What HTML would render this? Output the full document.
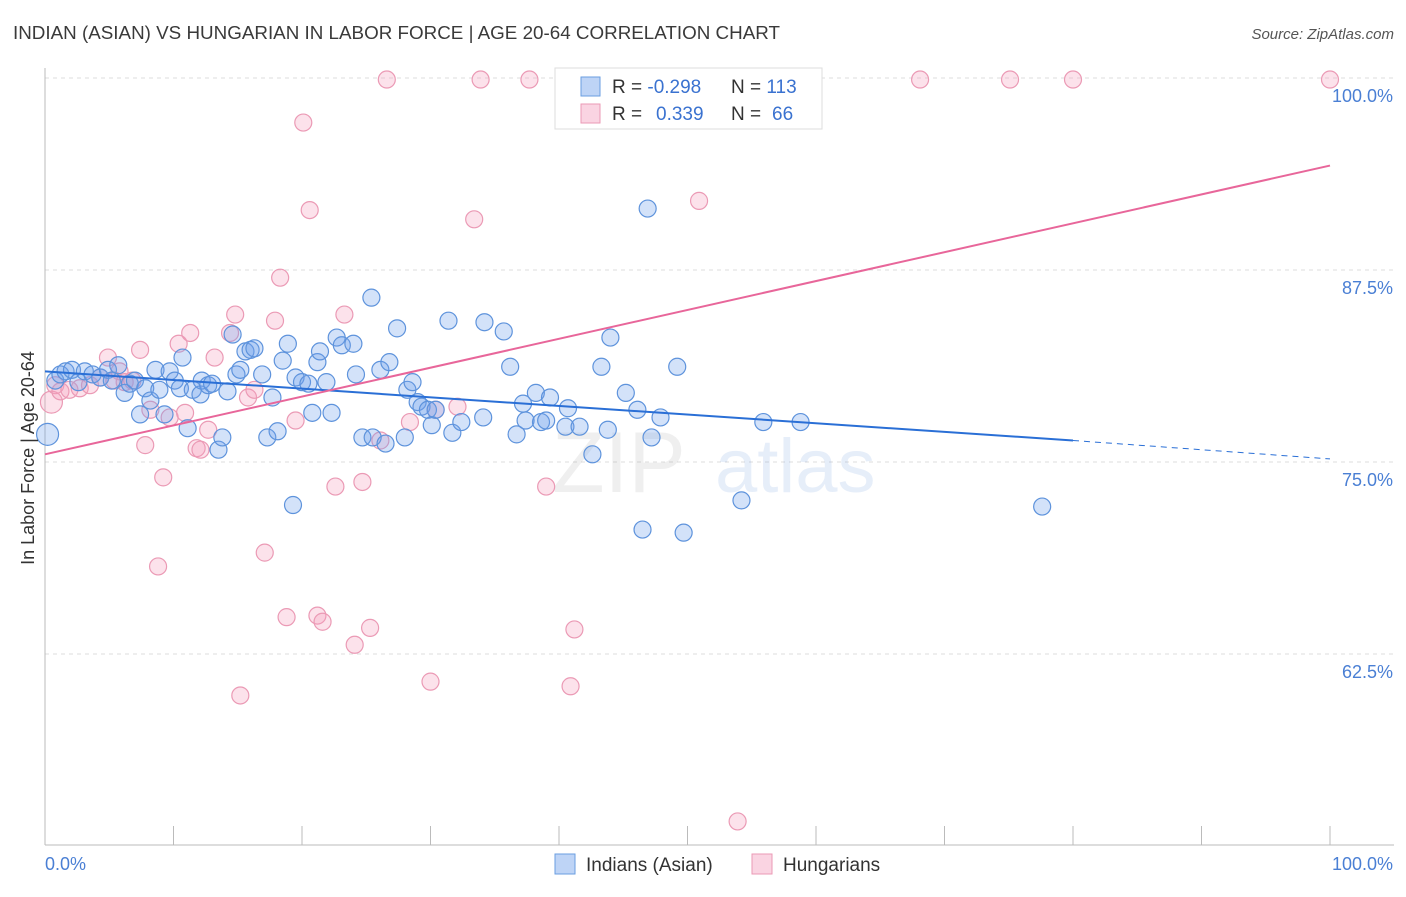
<!DOCTYPE html>
<html><head><meta charset="utf-8"><style>
body{margin:0;background:#fff;font-family:"Liberation Sans",sans-serif;}
svg text{font-family:"Liberation Sans",sans-serif;}
</style></head><body>
<svg id="chart" width="1406" height="892" viewBox="0 0 1406 892" xmlns="http://www.w3.org/2000/svg">
<text x="13" y="39" font-size="18" fill="#3a3a3a" textLength="767" lengthAdjust="spacingAndGlyphs">INDIAN (ASIAN) VS HUNGARIAN IN LABOR FORCE | AGE 20-64 CORRELATION CHART</text>
<text x="1394" y="39" font-size="15" fill="#555" text-anchor="end" font-style="italic">Source: ZipAtlas.com</text>
<g id="grid"></g>
<g opacity="0.13">
<text x="552" y="492" font-size="86" fill="#888" font-family="Liberation Serif">ZIP</text>
<text x="715" y="492" font-size="76" fill="#4a7fd4">atlas</text>
</g>
<g id="marks"></g>
<text transform="translate(34,458) rotate(-90)" font-size="18" fill="#333" text-anchor="middle">In Labor Force | Age 20-64</text>
<g>
<rect x="555" y="68" width="267" height="61" fill="#fff" stroke="#ddd"/>
<rect x="581" y="77" width="19" height="19" fill="rgba(110,160,235,0.45)" stroke="#6a9ee0"/>
<rect x="581" y="104" width="19" height="19" fill="rgba(245,160,190,0.45)" stroke="#eb9ab5"/>
<text x="612" y="93" font-size="19" fill="#333">R = <tspan fill="#3a72d0">-0.298</tspan><tspan x="731">N = </tspan><tspan fill="#3a72d0">113</tspan></text>
<text x="612" y="120" font-size="19" fill="#333">R = <tspan fill="#3a72d0" x="656">0.339</tspan><tspan x="731">N = </tspan><tspan fill="#3a72d0" x="772">66</tspan></text>
</g>
<g>
<rect x="555" y="854" width="20" height="20" fill="rgba(110,160,235,0.45)" stroke="#6a9ee0"/>
<text x="586" y="871" font-size="19" fill="#333">Indians (Asian)</text>
<rect x="752" y="854" width="20" height="20" fill="rgba(245,160,190,0.45)" stroke="#eb9ab5"/>
<text x="783" y="871" font-size="19" fill="#333">Hungarians</text>
</g>
</svg>
<script>
const yTicks=[100,87.5,75,62.5];
const yTickLabels=["100.0%","87.5%","75.0%","62.5%"];
const xTicks=[0,10,20,30,40,50,60,70,80,90,100];
const xTickLabels=["0.0%","100.0%"];
const blueX=[0.2,0.8,1.2,1.6,2.1,2.6,3.1,3.7,4.3,4.9,5.2,5.7,6.2,6.6,7.0,7.4,7.8,8.2,8.6,8.9,9.3,9.7,10.1,10.5,10.7,11.1,11.5,12.1,12.2,12.7,13.0,13.5,13.8,14.2,14.6,14.9,15.2,15.6,16.0,16.3,16.9,17.3,17.7,18.1,18.5,18.9,19.3,19.5,20.0,20.5,20.8,21.2,21.4,21.9,22.3,22.7,23.1,24.0,24.2,24.7,25.4,25.5,26.1,26.5,26.8,27.4,28.0,28.2,28.6,29.0,29.3,29.8,30.1,30.4,31.4,31.7,32.4,34.1,34.2,35.7,36.2,36.7,37.2,37.4,38.2,38.6,39.0,39.3,40.5,40.7,41.6,42.6,43.3,43.8,44.0,45.2,46.1,46.5,46.9,47.2,47.9,49.2,49.7,54.2,55.9,58.8,77.6];
const blueY=[76.8,80.3,80.7,80.9,81.0,80.2,80.9,80.7,80.5,81.0,80.3,81.3,79.5,80.1,80.3,78.1,79.8,79.0,81.0,79.7,78.1,80.9,80.3,79.8,81.8,77.2,79.7,79.4,80.3,80.0,80.1,75.8,76.6,79.6,83.3,80.7,81.0,82.2,82.3,82.4,80.7,76.6,79.2,77.0,81.6,82.7,72.2,80.5,80.2,80.1,78.2,81.5,82.2,80.2,78.2,83.1,82.6,82.7,80.7,76.6,85.7,76.6,81.0,76.2,81.5,83.7,76.6,79.7,80.2,78.9,78.6,78.4,77.4,78.4,84.2,76.9,77.6,77.9,84.1,83.5,81.2,76.8,78.8,77.7,79.5,77.6,77.7,79.2,77.3,78.5,77.3,75.5,81.2,77.1,83.1,79.5,78.4,70.6,91.5,76.6,77.9,81.2,70.4,72.5,77.6,77.6,72.1];
const pinkX=[0.5,0.8,1.2,1.9,2.7,3.5,4.3,4.9,5.4,5.8,6.2,6.8,7.4,7.8,8.2,8.8,9.2,9.7,10.4,10.9,11.3,11.8,12.1,12.7,13.2,14.4,14.8,15.2,15.8,16.3,17.1,17.9,18.3,18.8,19.5,20.1,20.6,21.2,21.6,22.6,23.3,24.1,24.7,25.3,26.1,26.6,28.4,30.0,30.4,32.1,33.4,33.9,37.7,39.0,40.9,41.2,50.9,53.9,68.1,75.1,80.0,100];
const pinkY=[78.9,80.0,79.6,79.7,79.8,80.0,80.5,81.8,80.3,80.9,80.2,80.3,82.3,76.1,78.4,68.2,74.0,77.9,82.7,78.2,83.4,75.9,75.8,77.1,81.8,83.4,84.6,59.8,79.2,79.7,69.1,84.2,87.0,64.9,77.7,97.1,91.4,65.0,64.6,73.4,84.6,63.1,73.7,64.2,76.4,99.9,77.6,60.7,78.4,78.6,90.8,99.9,99.9,73.4,60.4,64.1,92.0,51.6,99.9,99.9,99.9,99.9];
const blueTrendX=[0,80,100];
const blueTrendY=[80.9,76.4,75.2];
const pinkTrendX=[0,100];
const pinkTrendY=[75.5,94.3];
const NS="http://www.w3.org/2000/svg";
const xs=v=>45+v*12.85;
const ys=v=>78+(100-v)*15.36;
const grid=document.getElementById('grid');
const marks=document.getElementById('marks');
function mk(tag,attrs,parent){const e=document.createElementNS(NS,tag);for(const k in attrs)e.setAttribute(k,attrs[k]);parent.appendChild(e);return e;}
yTicks.forEach((t,i)=>{
 const l=mk('line',{x1:45,x2:1394,y1:ys(t),y2:ys(t),stroke:'#ddd','stroke-dasharray':'4 4'},grid);
 
 
 const tx=mk('text',{x:1393,y:ys(t)+24,'font-size':18,fill:'#4a7fd4','text-anchor':'end'},grid);
 tx.textContent=yTickLabels[i];
 
 
});
const ax=mk('line',{x1:45,x2:45,y1:68,y2:845,stroke:'#bbb'},grid);


const bx=mk('line',{x1:45,x2:1394,y1:845,y2:845,stroke:'#bbb'},grid);


xTicks.forEach(t=>{
 const l=mk('line',{x1:xs(t),x2:xs(t),y1:826,y2:845,stroke:'#bbb'},grid);
 
 
});
[[0,'start',45],[100,'end',1393]].forEach((d,i)=>{
 const tx=mk('text',{x:d[2],y:870,'font-size':18,fill:'#4a7fd4','text-anchor':d[1]},grid);
 tx.textContent=xTickLabels[i];
 
 
});
function dots(X,Y,fill,stroke,name){
 X.forEach((x,i)=>{
  const big=(i===0);
  const c=mk('circle',{cx:xs(x),cy:ys(Y[i]),r:big?11:8.5,fill:fill,stroke:stroke,'stroke-width':1.2},marks);
  
  
 });
}
dots(pinkX,pinkY,'rgba(245,160,190,0.3)','#eb9ab5','hungarian-point');
dots(blueX,blueY,'rgba(110,160,235,0.3)','#5e93dc','indian-point');
const bl=mk('line',{x1:xs(blueTrendX[0]),y1:ys(blueTrendY[0]),x2:xs(blueTrendX[1]),y2:ys(blueTrendY[1]),stroke:'#2a6fd6','stroke-width':2},marks);


const bd=mk('line',{x1:xs(blueTrendX[1]),y1:ys(blueTrendY[1]),x2:xs(blueTrendX[2]),y2:ys(blueTrendY[2]),stroke:'#2a6fd6','stroke-width':1,'stroke-dasharray':'6 5'},marks);


const pl=mk('line',{x1:xs(pinkTrendX[0]),y1:ys(pinkTrendY[0]),x2:xs(pinkTrendX[1]),y2:ys(pinkTrendY[1]),stroke:'#e8669a','stroke-width':2},marks);


</script>
</body></html>
